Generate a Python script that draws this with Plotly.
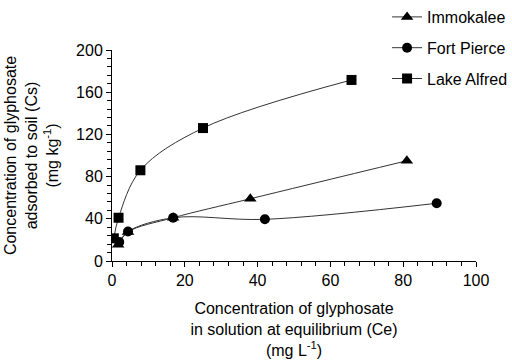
import plotly.graph_objects as go

immokalee_x = [1.7, 4.4, 16.8, 38.0, 81.0]
immokalee_y = [15.5, 27.5, 41.0, 59.0, 95.0]
fortpierce_x = [2.0, 4.4, 16.8, 42.0, 89.2]
fortpierce_y = [18.0, 28.0, 41.0, 39.5, 54.7]
lakealfred_x = [0.5, 1.8, 7.8, 25.0, 65.8]
lakealfred_y = [21.5, 41.0, 86.0, 126.0, 171.6]

series = [
    ("Immokalee", immokalee_x, immokalee_y, "triangle-up", 11),
    ("Fort Pierce", fortpierce_x, fortpierce_y, "circle", 10),
    ("Lake Alfred", lakealfred_x, lakealfred_y, "square", 10),
]

fig = go.Figure()
for name, xs, ys, sym, sz in series:
    fig.add_trace(go.Scatter(
        x=xs, y=ys, name=name, mode="lines+markers", legendgroup=name,
        line=dict(color="#333333", width=1, shape="spline", smoothing=1.0),
        marker=dict(symbol=sym, size=sz, color="black"),
    ))

font = dict(family="Liberation Sans, Arial, sans-serif", size=16, color="black")
fig.update_layout(
    width=512, height=360,
    margin=dict(l=112, r=36, t=50, b=99, autoexpand=False),
    paper_bgcolor="white", plot_bgcolor="white",
    font=font,
    showlegend=True,
    legend=dict(x=0.756, y=1.017, xref="container", yref="container",
                xanchor="left", yanchor="top",
                tracegroupgap=7, font=font, bgcolor="rgba(0,0,0,0)"),
    xaxis=dict(range=[0, 100], dtick=20, showgrid=False, zeroline=False,
               showline=True, linecolor="black", linewidth=1, automargin=False,
               ticks="outside", ticklen=5, tickcolor="black",
               minor=dict(dtick=4, ticks="outside", ticklen=4, tickcolor="black"),
               title=dict(text="Concentration of glyphosate<br>in solution at equilibrium (Ce)<br>(mg L<sup>-1</sup>)",
                          font=font, standoff=14)),
    yaxis=dict(range=[0, 200], dtick=40, showgrid=False, zeroline=False,
               showline=True, linecolor="black", linewidth=1, automargin=False,
               ticks="outside", ticklen=5, tickcolor="black",
               minor=dict(dtick=8, ticks="outside", ticklen=4, tickcolor="black"),
               title=dict(text="Concentration of glyphosate<br>adsorbed to soil (Cs)<br>(mg kg<sup>-1</sup>)",
                          font=font, standoff=13)),
)
fig.write_html("out.html", config={"displayModeBar": False},
               post_script="document.body.style.margin='0';document.body.style.overflow='hidden';")
